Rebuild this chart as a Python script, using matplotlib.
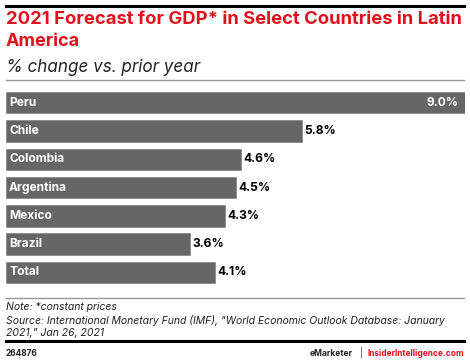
import matplotlib
matplotlib.use("Agg")
import matplotlib.pyplot as plt
from matplotlib.lines import Line2D

countries = ["Peru", "Chile", "Colombia", "Argentina", "Mexico", "Brazil", "Total"]
values = [9.0, 5.8, 4.6, 4.5, 4.3, 3.6, 4.1]
value_labels = ["9.0%", "5.8%", "4.6%", "4.5%", "4.3%", "3.6%", "4.1%"]

W, H = 470, 362
plt.rcParams['font.family'] = ['Inter', 'DejaVu Sans']
fig = plt.figure(figsize=(W / 100, H / 100), dpi=100)
renderer = fig.canvas.get_renderer()

def fx(x):
    return x / W

def fy(y):
    return 1 - y / H

def fit(t, width_px):
    # scale font size so that the text spans the given width in pixels
    for _ in range(3):
        w = t.get_window_extent(renderer=renderer).width
        t.set_fontsize(t.get_fontsize() * width_px / w)
    return t

RED = "#e0101e"
BAR = "#666666"
GREY_TXT = "#222222"

fig.add_artist(Line2D([fx(6), fx(464)], [fy(6), fy(6)], color="black", lw=2.2))
fit(fig.text(fx(6), fy(19), "2021 Forecast for GDP* in Select Countries in Latin",
             color=RED, fontsize=11, fontweight="bold", va="center", ha="left"), 456)
fit(fig.text(fx(6), fy(41), "America", color=RED, fontsize=11, fontweight="bold",
             va="center", ha="left"), 74)
fit(fig.text(fx(6), fy(67), "% change vs. prior year", color=GREY_TXT, fontsize=10.5,
             style="italic", va="center", ha="left"), 194)
fig.add_artist(Line2D([fx(6), fx(464)], [fy(80), fy(80)], color="#999999", lw=1))

top, bottom = 88.6, 286.6
ax = fig.add_axes([fx(6), fy(bottom), fx(465) - fx(6), (bottom - top) / H])
ypos = list(range(len(countries)))
ax.barh(ypos, values, height=0.76, color=BAR, edgecolor="#8a8a8a", linewidth=0.6)
ax.set_xlim(0, 9.0)
ax.set_ylim(len(countries) - 0.5, -0.5)
ax.axis("off")

lab_fs = None
for i, (c, v, lab) in enumerate(zip(countries, values, value_labels)):
    t = ax.text(0.06, i, c, color="white", fontsize=8.5, fontweight="bold",
                va="center", ha="left")
    if c == "Argentina":
        fit(t, 58)
        lab_fs = t.get_fontsize()
for i, (c, v, lab) in enumerate(zip(countries, values, value_labels)):
    for t in ax.texts:
        if t.get_text() == c:
            t.set_fontsize(lab_fs)
    if v >= 8.5:
        ax.text(v - 0.13, i, lab, color="white", fontsize=lab_fs, fontweight="bold",
                va="center", ha="right")
    else:
        ax.text(v + 0.05, i, lab, color="black", fontsize=lab_fs, fontweight="bold",
                va="center", ha="left")

fig.add_artist(Line2D([fx(6), fx(464)], [fy(298), fy(298)], color="#999999", lw=1))
src = fit(fig.text(fx(6), fy(320), 'Source: International Monetary Fund (IMF), "World Economic Outlook Database: January',
                   fontsize=7.3, style="italic", color=GREY_TXT, va="center"), 442)
sfs = src.get_fontsize()
fig.text(fx(6), fy(307), "Note: *constant prices", fontsize=sfs, style="italic",
         color=GREY_TXT, va="center")
fig.text(fx(6), fy(333), '2021," Jan 26, 2021', fontsize=sfs, style="italic",
         color=GREY_TXT, va="center")
fig.add_artist(Line2D([fx(6), fx(464)], [fy(341), fy(341)], color="black", lw=2.2))
fit(fig.text(fx(6), fy(353), "264876", fontsize=6.5, fontweight="bold", color=GREY_TXT,
             va="center"), 32)
ii = fit(fig.text(fx(464), fy(353), "InsiderIntelligence.com", fontsize=7, fontweight="bold",
                  color=RED, va="center", ha="right"), 97)
fig.text(fx(361), fy(352.5), "|", fontsize=ii.get_fontsize(), color=GREY_TXT, va="center", ha="center")
fit(fig.text(fx(353), fy(353), "eMarketer", fontsize=7, fontweight="bold", color=GREY_TXT,
             va="center", ha="right"), 43)

fig.savefig("out.png", dpi=100, facecolor="white")
